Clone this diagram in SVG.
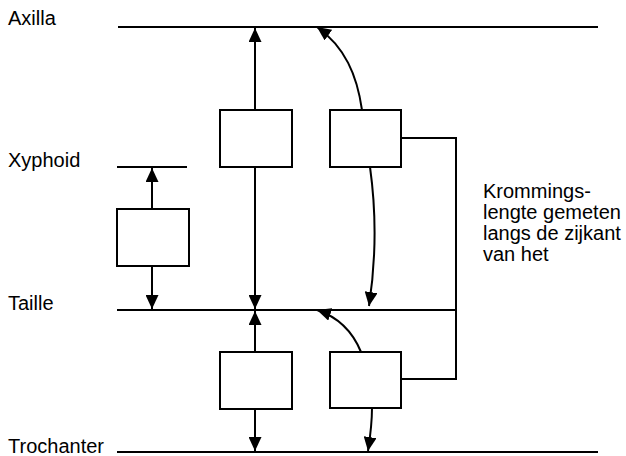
<svg xmlns="http://www.w3.org/2000/svg" width="626" height="456" viewBox="0 0 626 456">
<style>
.ln{stroke:#000;stroke-width:2;fill:none}
.box{stroke:#000;stroke-width:2;fill:#fff}
.arr{stroke:#000;stroke-width:2;fill:none;marker-end:url(#ah)}
text{font-family:"Liberation Sans",Arial,sans-serif;font-size:20px;fill:#000}
</style>
<defs>
<marker id="ah" markerUnits="userSpaceOnUse" markerWidth="15" markerHeight="13" viewBox="0 0 15 13" refX="14" refY="6.5" orient="auto">
<path d="M0,0 L14,6.5 L0,13 Z" fill="#000"/>
</marker>
</defs>
<g id="levels">
<line class="ln" x1="118" y1="27" x2="598" y2="27"/>
<line class="ln" x1="117" y1="167" x2="187" y2="167"/>
<line class="ln" x1="117" y1="310" x2="456" y2="310"/>
<line class="ln" x1="117" y1="452" x2="598" y2="452"/>
</g>
<g id="labels">
<text x="8" y="25">Axilla</text>
<text x="8" y="167">Xyphoid</text>
<text x="8" y="310">Taille</text>
<text x="8" y="453">Trochanter</text>
</g>
<g id="note">
<text x="483" y="198">Krommings-</text>
<text x="483" y="219">lengte gemeten</text>
<text x="483" y="240">langs de zijkant</text>
<text x="483" y="261">van het</text>
</g>
<g id="connectors">
<line class="arr" x1="255" y1="110" x2="255" y2="28"/>
<line class="arr" x1="255" y1="167" x2="255" y2="309"/>
<line class="arr" x1="255" y1="352" x2="255" y2="311"/>
<line class="arr" x1="255" y1="409" x2="255" y2="451"/>
<line class="arr" x1="152" y1="209" x2="152" y2="168"/>
<line class="arr" x1="152" y1="266" x2="152" y2="309"/>
<path class="arr" d="M362,110 C357,75 345,47 317,27"/>
<path class="arr" d="M370,167 C376,210 376,260 369,306"/>
<path class="arr" d="M361,352 C352,330 338,317 317,310"/>
<path class="arr" d="M372,408 C372,425 370,438 368,451"/>
<polyline class="ln" points="401,138 456,138 456,379 401,379"/>
</g>
<g id="box-top-mid"><rect class="box" x="220" y="110" width="72" height="57"/></g>
<g id="box-top-right"><rect class="box" x="330" y="110" width="71" height="57"/></g>
<g id="box-left"><rect class="box" x="117" y="209" width="72" height="57"/></g>
<g id="box-bottom-mid"><rect class="box" x="220" y="352" width="72" height="57"/></g>
<g id="box-bottom-right"><rect class="box" x="330" y="352" width="71" height="56"/></g>
</svg>
